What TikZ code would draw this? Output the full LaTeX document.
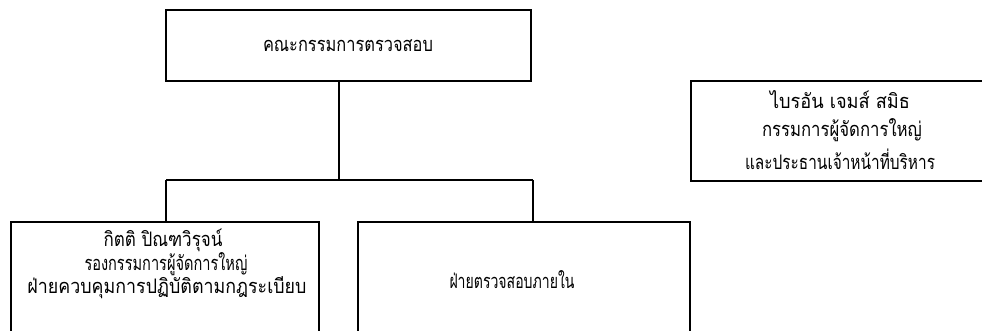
\documentclass[tikz,border=0pt]{standalone}
\usepackage{fontspec}
\usepackage{graphicx}
\newfontfamily\thaifont[Script=Thai]{Loma}
\newcommand{\fitw}[2]{\resizebox{#1}{\height}{#2}}
\begin{document}
\begin{tikzpicture}[x=1pt,y=-1pt,
  box/.style={draw, line width=1.3pt, inner sep=0pt, outer sep=0pt},
  conn/.style={line width=1.3pt},
  lbl/.style={font=\thaifont\fontsize{20}{22}\selectfont, align=center, inner sep=0pt}]
\useasboundingbox (0,0) rectangle (982,331);
\clip (0,0) rectangle (982,331);
% boxes
\node[box, minimum width=365pt, minimum height=71pt] (top) at (348.5,45.5) {};
\node[box, minimum width=308pt, minimum height=130pt, anchor=north west] (left) at (11,222) {};
\node[box, minimum width=332pt, minimum height=130pt, anchor=north west] (mid) at (358,222) {};
\node[box, minimum width=320pt, minimum height=100pt, anchor=north west] (right) at (691,81) {};
% texts
\node[lbl] (ttop) at (348,46) {\fitw{170pt}{คณะกรรมการตรวจสอบ}};
\node[lbl] (tl1) at (163,240) {\fitw{119pt}{กิตติ ปิณฑวิรุจน์}};
\node[lbl] (tl2) at (166,264) {\fitw{163pt}{รองกรรมการผู้จัดการใหญ่}};
\node[lbl] (tl3) at (167,288) {\fitw{279pt}{ฝ่ายควบคุมการปฏิบัติตามกฎระเบียบ}};
\node[lbl] (tmid) at (512,280) {\fitw{125pt}{ฝ่ายตรวจสอบภายใน}};
\node[lbl] (tr1) at (840,100) {\fitw{140pt}{ไบรอัน เจมส์ สมิธ}};
\node[lbl] (tr2) at (842,130) {\fitw{160pt}{กรรมการผู้จัดการใหญ่}};
\node[lbl] (tr3) at (840,159) {\fitw{190pt}{และประธานเจ้าหน้าที่บริหาร}};
% connectors
\coordinate (j) at (339,180);
\coordinate (bl) at (166,180);
\coordinate (br) at (533,180);
\draw[conn] (j |- top.south) -- (j);
\draw[conn] (bl) -- (br);
\draw[conn] (bl) -- (bl |- left.north);
\draw[conn] (br) -- (br |- mid.north);
\end{tikzpicture}
\end{document}
